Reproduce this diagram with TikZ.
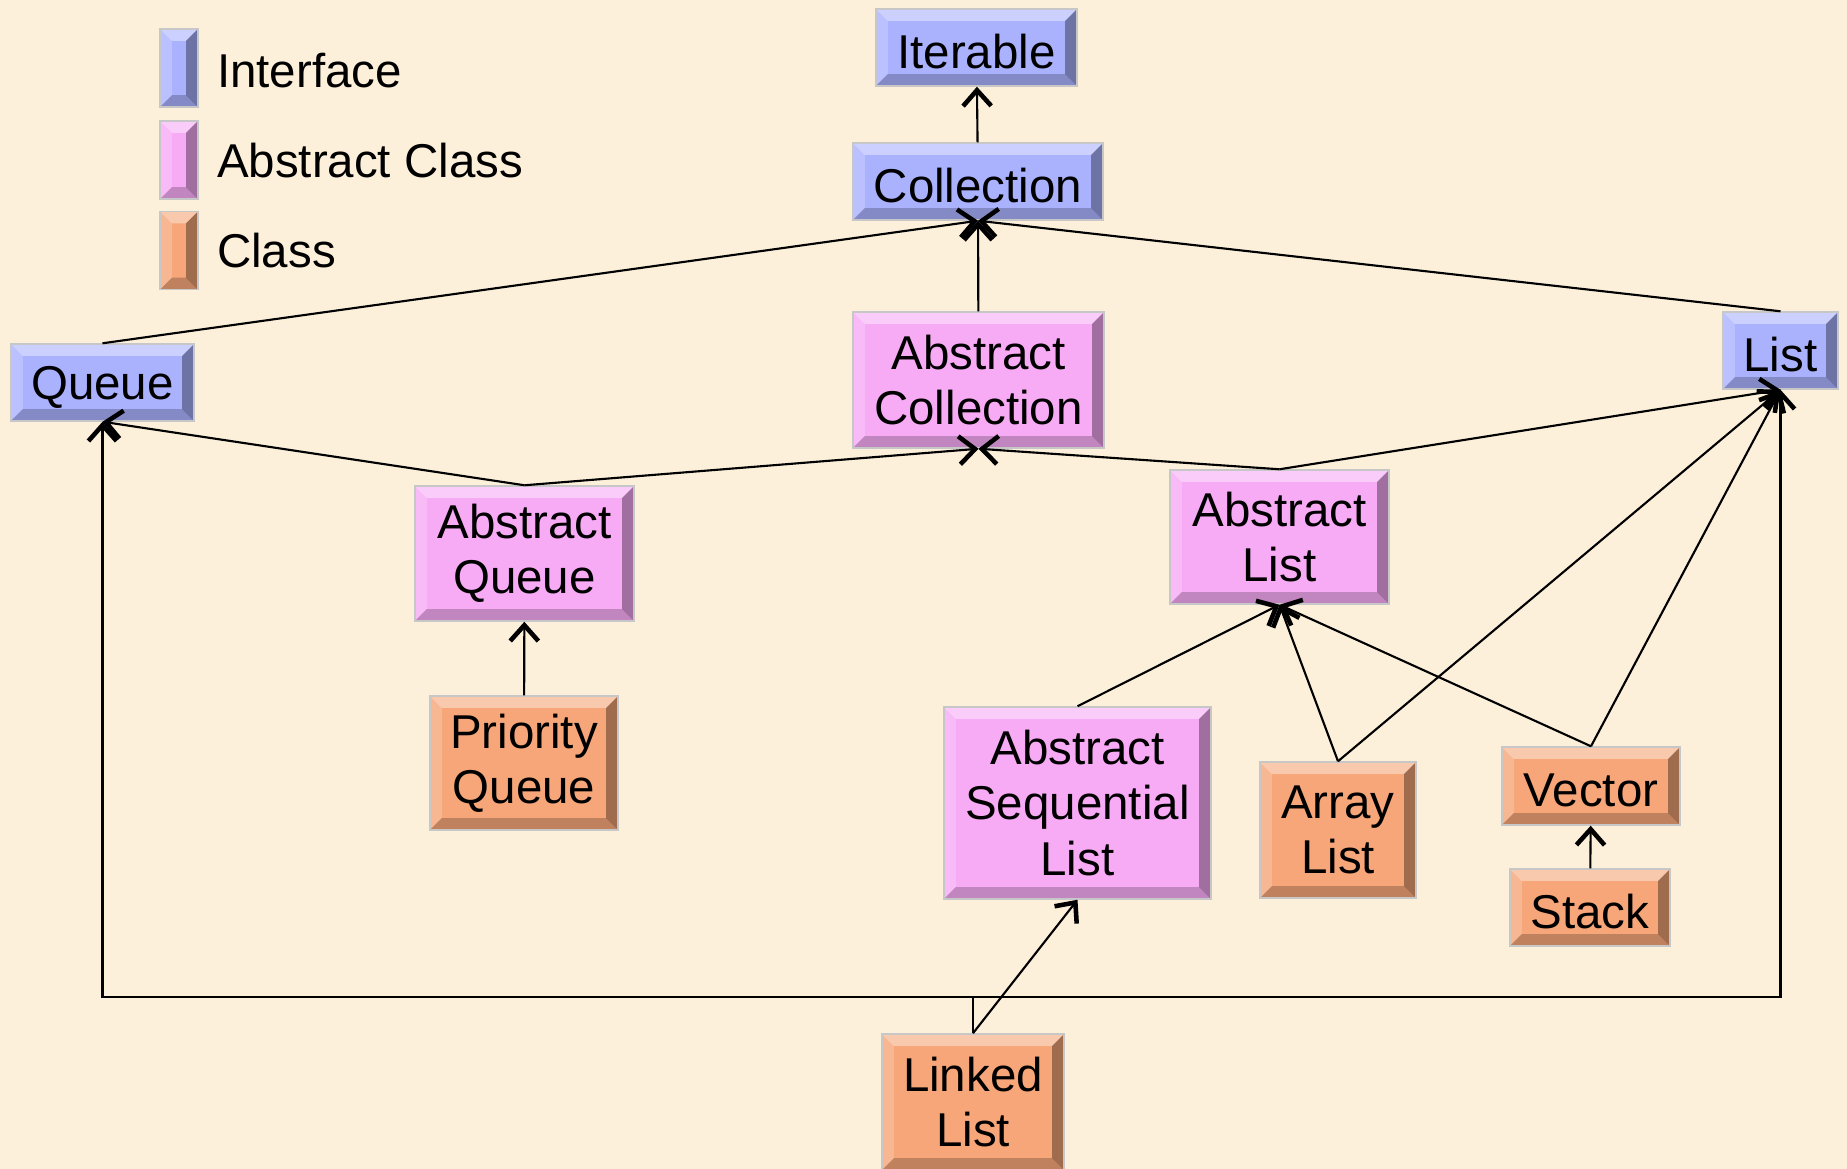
\documentclass[tikz,border=0pt]{standalone}
\usepackage{fontspec}
\setmainfont{Liberation Sans}
\usetikzlibrary{arrows.meta}
\definecolor{paper}{HTML}{FCF0DA}
\definecolor{ifaceblue}{HTML}{AAB2FE}
\definecolor{abspink}{HTML}{F8ABF5}
\definecolor{classorange}{HTML}{F6A679}

\begin{document}
\begin{tikzpicture}[x=0.01cm,y=-0.01cm,->,>={Straight Barb[length=4.5pt,width=8pt,line width=1.3pt]},line width=0.6pt,
  bevel/.style={path picture={
    \fill[white,opacity=0.4] (path picture bounding box.north west) -- (path picture bounding box.north east)
      -- ([shift={(-0.12cm,-0.12cm)}]path picture bounding box.north east) -- ([shift={(0.12cm,-0.12cm)}]path picture bounding box.north west) -- cycle;
    \fill[white,opacity=0.2] (path picture bounding box.north west) -- (path picture bounding box.south west)
      -- ([shift={(0.12cm,0.12cm)}]path picture bounding box.south west) -- ([shift={(0.12cm,-0.12cm)}]path picture bounding box.north west) -- cycle;
    \fill[black,opacity=0.22] (path picture bounding box.south west) -- (path picture bounding box.south east)
      -- ([shift={(-0.12cm,0.12cm)}]path picture bounding box.south east) -- ([shift={(0.12cm,0.12cm)}]path picture bounding box.south west) -- cycle;
    \fill[black,opacity=0.35] (path picture bounding box.north east) -- (path picture bounding box.south east)
      -- ([shift={(-0.12cm,0.12cm)}]path picture bounding box.south east) -- ([shift={(-0.12cm,-0.12cm)}]path picture bounding box.north east) -- cycle;
  }},
  box node/.style={rectangle,bevel,draw=black!22,line width=0.4pt,inner sep=0pt,align=center,font=\fontsize{13.5}{15.7}\selectfont,
    execute at begin node={\rule{0pt}{12pt}}},
  iface node/.style={box node,fill=ifaceblue},
  abstract node/.style={box node,fill=abspink},
  class node/.style={box node,fill=classorange},
  box size/.style 2 args={minimum width=#1cm,minimum height=#2cm}]
  \fill[paper] (0,0) rectangle (1847,1169);
  \useasboundingbox (0,0) rectangle (1847,1169);

  % legend
  \node[iface node,box size={0.38}{0.78}] (keyiface) at (179,68) {};
  \node[abstract node,box size={0.38}{0.78}] (keyabs) at (179,160) {};
  \node[class node,box size={0.38}{0.78}] (keyclass) at (179,250.5) {};
  \node[anchor=west,inner sep=0pt,font=\fontsize{13.5}{15.7}\selectfont] (txtiface) at (216,71) {Interface};
  \node[anchor=west,inner sep=0pt,font=\fontsize{13.5}{15.7}\selectfont] (txtabs) at (216,161) {Abstract Class};
  \node[anchor=west,inner sep=0pt,font=\fontsize{13.5}{15.7}\selectfont] (txtclass) at (216,251) {Class};

  % interfaces
  \node[iface node,box size={2.01}{0.77}] (iterable) at (976.5,47.5) {Iterable};
  \node[iface node,box size={2.50}{0.77}] (collection) at (978,181.5) {Collection};
  \node[iface node,box size={1.83}{0.77}] (queue) at (102.5,382.5) {Queue};
  \node[iface node,box size={1.15}{0.77}] (list) at (1780.5,350.5) {List};

  % abstract classes
  \node[abstract node,box size={2.51}{1.36}] (abscoll) at (978.5,380) {Abstract\\Collection};
  \node[abstract node,box size={2.19}{1.35}] (absqueue) at (524.5,553.5) {Abstract\\Queue};
  \node[abstract node,box size={2.19}{1.34}] (abslist) at (1279.5,537) {Abstract\\List};
  \node[abstract node,box size={2.67}{1.92}] (absseq) at (1077.5,803) {Abstract\\Sequential\\List};

  % classes
  \node[class node,box size={1.88}{1.34}] (prioq) at (524,763) {Priority\\Queue};
  \node[class node,box size={1.56}{1.36}] (arraylist) at (1338,830) {Array\\List};
  \node[class node,box size={1.78}{0.78}] (vector) at (1591,786) {Vector};
  \node[class node,box size={1.60}{0.77}] (stack) at (1590,907.5) {Stack};
  \node[class node,box size={1.82}{1.36}] (linked) at (973,1102) {Linked\\List};

  \coordinate (llbend) at (973,997);

\path
  (collection) edge (iterable)
  (queue.north) edge (collection.south)
  (list.north) edge (collection.south)
  (abscoll) edge (collection)
  (absqueue.north) edge (queue.south)
  (absqueue.north) edge (abscoll.south)
  (abslist.north) edge (abscoll.south)
  (abslist.north) edge (list.south)
  (prioq) edge (absqueue)
  (absseq.north) edge (abslist.south)
  (arraylist.north) edge (abslist.south)
  (arraylist.north) edge (list.south)
  (vector.north) edge (abslist.south)
  (vector.north) edge (list.south)
  (stack) edge (vector)
  (linked.north) edge (absseq.south)
;
  \draw (linked.north) -- (llbend) -| (queue.south);
  \draw (linked.north) -- (llbend) -| (list.south);
\end{tikzpicture}
\end{document}
